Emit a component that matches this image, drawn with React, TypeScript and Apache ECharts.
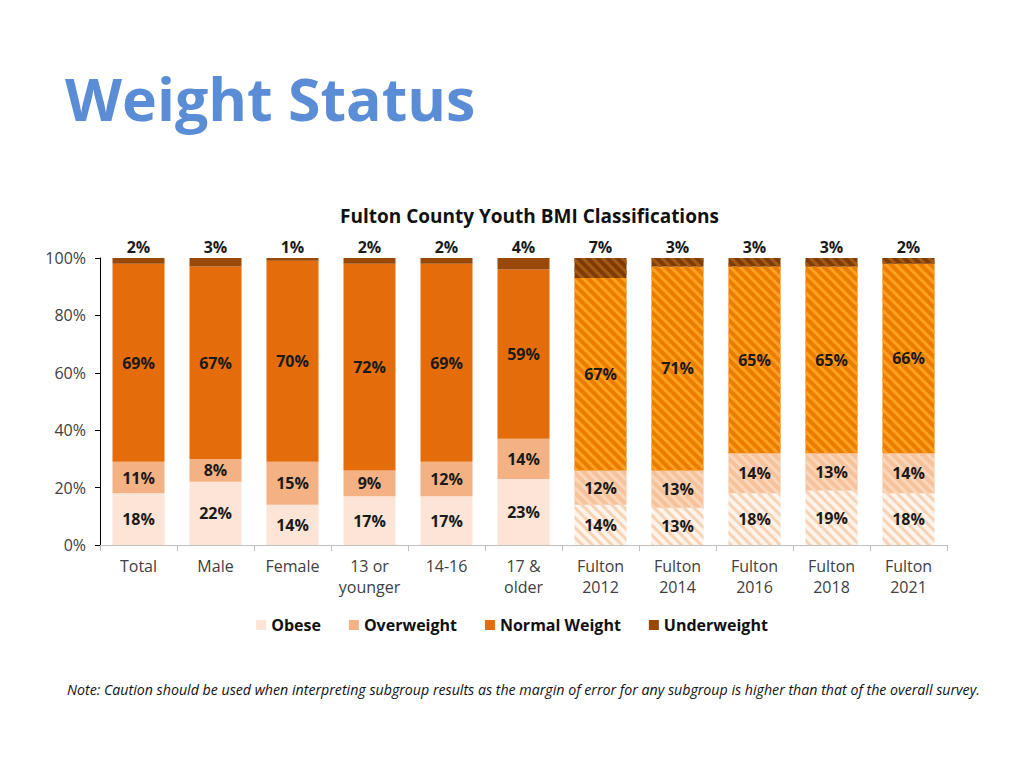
import React, { useEffect, useRef } from "react";
import * as echarts from "echarts";

const categories = [
  "Total",
  "Male",
  "Female",
  "13 or\nyounger",
  "14-16",
  "17 &\nolder",
  "Fulton\n2012",
  "Fulton\n2014",
  "Fulton\n2016",
  "Fulton\n2018",
  "Fulton\n2021",
];
const obese = [18, 22, 14, 17, 17, 23, 14, 13, 18, 19, 18];
const overweight = [11, 8, 15, 9, 12, 14, 12, 13, 14, 13, 14];
const normalWeight = [69, 67, 70, 72, 69, 59, 67, 71, 65, 65, 66];
const underweight = [2, 3, 1, 2, 2, 4, 7, 3, 3, 3, 2];
// true for the county-wide survey-year bars (drawn hatched)
const surveyYear = [false, false, false, false, false, false, true, true, true, true, true];
const seriesNames = ["Obese", "Overweight", "Normal Weight", "Underweight"];
const yTicks = [0, 20, 40, 60, 80, 100];

const FONT = "'Open Sans', 'Noto Sans', sans-serif";

const solidColors = ["#FCE4D6", "#F4B183", "#E46C0A", "#984807"];
const hatchBase = ["#FEF4EC", "#F6C29B", "#EA7C00", "#7E3C02"];
const hatchStripe = ["#F7D3B6", "#FAD6BB", "#FFA11E", "#A55A12"];

function buildData(values: number[], idx: number) {
  return values.map((v, i) =>
    surveyYear[i]
      ? {
          value: v,
          itemStyle: {
            color: hatchBase[idx],
            decal: {
              symbol: "rect",
              symbolSize: 1,
              color: hatchStripe[idx],
              dashArrayX: [1, 0],
              dashArrayY: [3, 4],
              rotation: Math.PI / 4,
            },
          },
        }
      : { value: v }
  );
}

export default function App() {
  const ref = useRef<HTMLDivElement>(null);
  useEffect(() => {
    if (!ref.current) return;
    const chart = echarts.init(ref.current, null, { renderer: "svg" });
    const valueSets = [obese, overweight, normalWeight, underweight];
    const series = valueSets.map((vals, idx) => ({
      name: seriesNames[idx],
      type: "bar",
      stack: "total",
      barWidth: 52,
      itemStyle: { color: solidColors[idx] },
      label: {
        show: true,
        position: idx === 3 ? "top" : "inside",
        distance: 3,
        formatter: "{c}%",
        color: "#1a1a1a",
        fontFamily: FONT,
        fontWeight: "bold",
        fontSize: 16,
      },
      data: buildData(vals, idx),
    }));
    chart.setOption({
      animation: false,
      textStyle: { fontFamily: FONT },
      title: [
        {
          text: "Weight Status",
          left: 60,
          top: 63,
          textStyle: {
            color: "#5B8DD6",
            fontSize: 59,
            fontWeight: "bold",
            fontFamily: FONT,
          },
        },
        {
          text: "Fulton County Youth BMI Classifications",
          left: 335,
          top: 201,
          textStyle: {
            color: "#111",
            fontSize: 19,
            fontWeight: "bold",
            fontFamily: FONT,
          },
        },
        {
          text: "Note: Caution should be used when interpreting subgroup results as the margin of error for any subgroup is higher than that of the overall survey.",
          left: 62,
          top: 677,
          textStyle: {
            color: "#111",
            fontSize: 14.2,
            fontWeight: "normal",
            fontStyle: "italic",
            fontFamily: FONT,
          },
        },
      ],
      legend: {
        data: seriesNames,
        top: 612,
        left: "center",
        itemWidth: 10,
        itemHeight: 10,
        itemGap: 28,
        icon: "rect",
        textStyle: {
          color: "#111",
          fontSize: 16,
          fontWeight: "bold",
          fontFamily: FONT,
        },
      },
      grid: { left: 100, right: 77, top: 258, bottom: 223 },
      xAxis: {
        type: "category",
        data: categories,
        axisLine: { lineStyle: { color: "#BFBFBF" } },
        axisTick: { show: true, interval: 0, length: 6, lineStyle: { color: "#BFBFBF" } },
        axisLabel: {
          interval: 0,
          color: "#404040",
          fontSize: 16,
          lineHeight: 21,
          margin: 10,
          fontFamily: FONT,
        },
      },
      yAxis: {
        type: "value",
        min: yTicks[0],
        max: yTicks[yTicks.length - 1],
        interval: yTicks[1] - yTicks[0],
        axisLine: { show: true, lineStyle: { color: "#000" } },
        axisTick: { show: true, length: 5, lineStyle: { color: "#000" } },
        splitLine: { show: false },
        axisLabel: {
          formatter: "{value}%",
          color: "#404040",
          fontSize: 16,
          margin: 14,
          fontFamily: FONT,
        },
      },
      series,
    });
    return () => chart.dispose();
  }, []);
  return (
    <div
      ref={ref}
      style={{ position: "fixed", left: 0, top: 0, width: 1024, height: 768, background: "#fff" }}
    />
  );
}
